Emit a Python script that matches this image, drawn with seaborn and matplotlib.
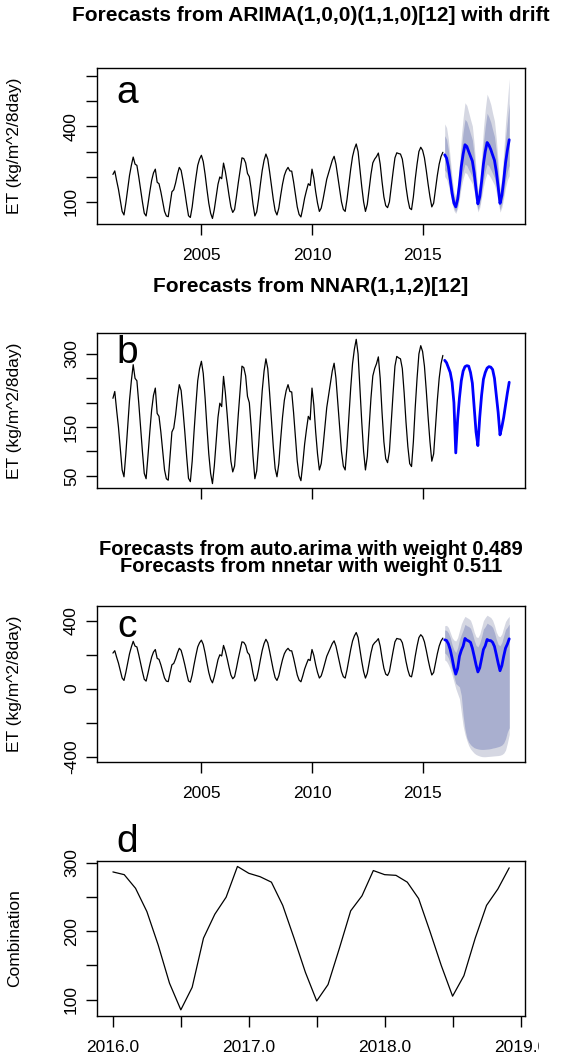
import matplotlib
matplotlib.use("Agg")
import matplotlib.pyplot as plt
import numpy as np
import pandas as pd
import seaborn as sns
from matplotlib.transforms import Bbox, TransformedBbox

# monthly ET, Jan 2001 .. Dec 2015 (one row per year)
et_hist = [
    209, 223, 185, 150, 105, 62, 48, 95, 150, 205, 245, 278,
    250, 245, 200, 150, 100, 55, 44, 90, 140, 185, 215, 230,
    178, 172, 140, 100, 62, 44, 41, 90, 140, 148, 175, 210,
    237, 225, 185, 140, 90, 45, 38, 80, 140, 195, 245, 270,
    285, 260, 210, 150, 95, 55, 34, 70, 120, 170, 199, 192,
    254, 220, 175, 125, 80, 58, 70, 120, 175, 225, 275, 272,
    255, 213, 200, 150, 90, 44, 60, 110, 170, 225, 265, 290,
    270, 220, 165, 110, 65, 48, 75, 125, 170, 205, 225, 237,
    223, 222, 180, 130, 80, 50, 40, 75, 115, 145, 172, 165,
    230, 195, 140, 95, 62, 75, 110, 150, 190, 215, 240, 265,
    281, 250, 200, 150, 100, 70, 62, 110, 170, 230, 280, 310,
    330, 300, 230, 160, 100, 62, 90, 150, 210, 255, 270, 280,
    294, 250, 180, 120, 85, 77, 100, 160, 220, 275, 295, 292,
    290, 270, 220, 160, 110, 75, 69, 120, 190, 250, 300, 317,
    305, 275, 225, 170, 120, 80, 95, 150, 205, 250, 280, 297,
]

# ARIMA forecast, Jan 2016 .. Dec 2018
arima_mean = [287, 274, 240, 188, 134, 95, 80, 110, 170, 240, 290, 327,
              320, 300, 281, 262, 215, 150, 92, 120, 180, 250, 300, 336,
              325, 308, 286, 265, 220, 160, 94, 125, 185, 255, 305, 347]
arima_lo80 = [227, 216, 188, 147, 105, 74, 62, 85, 131, 185, 222, 250,
              244, 228, 214, 198, 163, 113, 69, 90, 135, 187, 224, 250,
              242, 228, 212, 196, 162, 118, 69, 92, 135, 186, 221, 245]
arima_hi80 = [363, 348, 306, 240, 172, 122, 103, 142, 221, 312, 378, 428,
              419, 395, 370, 346, 284, 199, 122, 160, 240, 335, 401, 452,
              437, 416, 386, 359, 298, 218, 128, 171, 253, 350, 420, 491]
arima_lo95 = [201, 190, 166, 130, 92, 65, 54, 74, 114, 161, 193, 217,
              212, 197, 185, 171, 141, 97, 60, 77, 116, 160, 192, 214,
              207, 195, 181, 167, 138, 100, 59, 78, 115, 157, 187, 204]
arima_hi95 = [410, 395, 348, 273, 196, 140, 118, 163, 253, 358, 435, 494,
              483, 456, 427, 401, 329, 231, 142, 186, 279, 390, 468, 528,
              510, 487, 452, 421, 350, 256, 150, 201, 298, 413, 497, 590]

# NNAR forecast
nnar_mean = [287, 282, 272, 262, 242, 200, 97, 165, 210, 245, 265, 274,
             276, 275, 262, 240, 190, 140, 112, 170, 215, 248, 262, 271,
             274, 273, 268, 250, 215, 180, 134, 150, 170, 195, 220, 242]

# combined forecast
comb_mean = [287, 283, 263, 229, 180, 124, 85, 118, 190, 225, 250, 295,
             285, 280, 272, 238, 190, 140, 98, 122, 175, 230, 252, 289,
             283, 282, 272, 248, 200, 150, 105, 135, 190, 238, 262, 293]
comb_lo80 = [210, 200, 180, 150, 110, 70, 30, 20, 10, -40, -160, -240,
             -290, -315, -330, -340, -348, -352, -355, -357, -358, -358, -357, -356,
             -355, -353, -350, -348, -345, -342, -338, -332, -320, -295, -255, -230]
comb_hi80 = [345, 342, 328, 300, 258, 228, 212, 240, 288, 318, 345, 378,
             370, 365, 355, 325, 285, 255, 245, 268, 305, 350, 365, 385,
             378, 372, 360, 330, 290, 260, 252, 272, 310, 348, 362, 380]
comb_lo95 = [169, 160, 140, 115, 80, 40, 0, -30, -60, -140, -220, -270,
             -305, -335, -355, -368, -380, -388, -393, -397, -400, -401, -401, -400,
             -399, -398, -397, -396, -395, -394, -392, -388, -380, -362, -320, -270]
comb_hi95 = [370, 372, 360, 330, 300, 285, 280, 300, 340, 380, 405, 425,
             418, 412, 402, 372, 332, 305, 300, 320, 360, 400, 418, 432,
             425, 418, 402, 372, 332, 310, 305, 322, 360, 395, 412, 425]

hist = pd.DataFrame({"time": 2001 + np.arange(len(et_hist)) / 12, "et": et_hist})
fc = pd.DataFrame({
    "time": 2016 + np.arange(len(comb_mean)) / 12,
    "arima": arima_mean, "arima_lo80": arima_lo80, "arima_hi80": arima_hi80,
    "arima_lo95": arima_lo95, "arima_hi95": arima_hi95,
    "nnar": nnar_mean,
    "comb": comb_mean, "comb_lo80": comb_lo80, "comb_hi80": comb_hi80,
    "comb_lo95": comb_lo95, "comb_hi95": comb_hi95,
})

sns.set_theme(style="white")
plt.rcParams["font.family"] = ["Liberation Sans", "DejaVu Sans"]
plt.rcParams["text.color"] = "black"
plt.rcParams["axes.labelcolor"] = "black"
plt.rcParams["xtick.color"] = "black"
plt.rcParams["ytick.color"] = "black"

W, H = 567, 1063
SHADE80 = "#a9afcf"
SHADE95 = "#d5d7e2"
ylab = "ET (kg/m^2/8day)"


def rect(top, bottom, left=97, right=525):
    return [left / W, 1 - bottom / H, (right - left) / W, (bottom - top) / H]


def style_axes(ax):
    for s in ax.spines.values():
        s.set_visible(True)
        s.set_color("black")
        s.set_linewidth(1.0)
    ax.tick_params(axis="both", which="both", direction="out", length=8, width=1,
                   color="black", left=True, bottom=True, labelsize=12.5,
                   labelcolor="black")
    ax.tick_params(axis="x", pad=9)
    ax.tick_params(axis="y", pad=5, labelrotation=90)
    for lab in ax.get_yticklabels():
        lab.set_va("center")
    ax.set_xlabel("")
    ax.yaxis.set_label_coords(-0.175, 0.5)


def y_ticks(ax, ticks, labelled):
    ax.set_yticks(ticks)
    ax.set_yticklabels([str(t) if t in labelled else "" for t in ticks])


def forecast_panel(ax, col, bands, ylim):
    if bands:
        ax.fill_between(fc["time"], fc[col + "_lo95"], fc[col + "_hi95"],
                        color=SHADE95, linewidth=0)
        ax.fill_between(fc["time"], fc[col + "_lo80"], fc[col + "_hi80"],
                        color=SHADE80, linewidth=0)
    sns.lineplot(data=hist, x="time", y="et", ax=ax, color="black",
                 linewidth=0.9, errorbar=None, sort=False)
    sns.lineplot(data=fc, x="time", y=col, ax=ax, color="#0000ff",
                 linewidth=2.0, errorbar=None, sort=False)
    ax.set_xlim(2000.28, 2019.63)
    ax.set_ylim(*ylim)
    ax.set_xticks([2005, 2010, 2015])


fig = plt.figure(figsize=(W / 100, H / 100), dpi=100)
fig.patch.set_facecolor("white")

# a: ARIMA
ax_a = fig.add_axes(rect(68, 224))
forecast_panel(ax_a, "arima", True, (12, 632))
y_ticks(ax_a, [100, 200, 300, 400, 500, 600], [100, 400])
ax_a.set_xticklabels(["2005", "2010", "2015"])
ax_a.set_ylabel(ylab, fontsize=12.5)
style_axes(ax_a)

# b: NNAR
ax_b = fig.add_axes(rect(333, 488))
forecast_panel(ax_b, "nnar", False, (25, 343))
y_ticks(ax_b, [50, 100, 150, 200, 250, 300], [50, 150, 300])
ax_b.set_xticklabels([])
ax_b.set_ylabel(ylab, fontsize=12.5)
style_axes(ax_b)

# c: combination with intervals
ax_c = fig.add_axes(rect(606, 762))
forecast_panel(ax_c, "comb", True, (-432, 486))
y_ticks(ax_c, [-400, -200, 0, 200, 400], [-400, 0, 400])
ax_c.set_xticklabels(["2005", "2010", "2015"])
ax_c.set_ylabel(ylab, fontsize=12.5)
style_axes(ax_c)

# d: combination only
ax_d = fig.add_axes(rect(861, 1016))
sns.lineplot(data=fc, x="time", y="comb", ax=ax_d, color="black",
             linewidth=0.9, errorbar=None, sort=False)
ax_d.set_xlim(2015.883, 2019.033)
ax_d.set_ylim(76, 303)
d_ticks = [2016.0, 2016.5, 2017.0, 2017.5, 2018.0, 2018.5, 2019.0]
ax_d.set_xticks(d_ticks)
ax_d.set_xticklabels([f"{t:.1f}" if t == int(t) else "" for t in d_ticks])
y_ticks(ax_d, [100, 150, 200, 250, 300], [100, 200, 300])
ax_d.set_ylabel("Combination", fontsize=12.5)
style_axes(ax_d)

# titles
tkw = dict(ha="center", fontsize=15, fontweight="bold", color="black")
fig.text(311 / W, 1 - 21 / H, "Forecasts from ARIMA(1,0,0)(1,1,0)[12] with drift",
         va="baseline", **tkw)
fig.text(311 / W, 1 - 292 / H, "Forecasts from NNAR(1,1,2)[12]", va="baseline", **tkw)
fig.text(311 / W, 1 - 558 / H,
         "Forecasts from auto.arima with weight 0.489\nForecasts from nnetar with weight 0.511",
         va="center", linespacing=0.82, multialignment="center",
         **{**tkw, "fontsize": 14.5})

# panel letters
for letter, ybase in [("a", 103), ("b", 363), ("c", 637), ("d", 852)]:
    fig.text(127 / W, 1 - ybase / H, letter, ha="center", va="baseline",
             fontsize=28, color="black")

# the right-most label is cut off at the image edge
clip = TransformedBbox(Bbox([[0, 0], [539 / W, 1]]), fig.transFigure)
for lab in ax_d.get_xticklabels():
    lab.set_clip_box(clip)
    lab.set_clip_on(True)

fig.savefig("out.png", dpi=100, facecolor="white")
plt.close(fig)
